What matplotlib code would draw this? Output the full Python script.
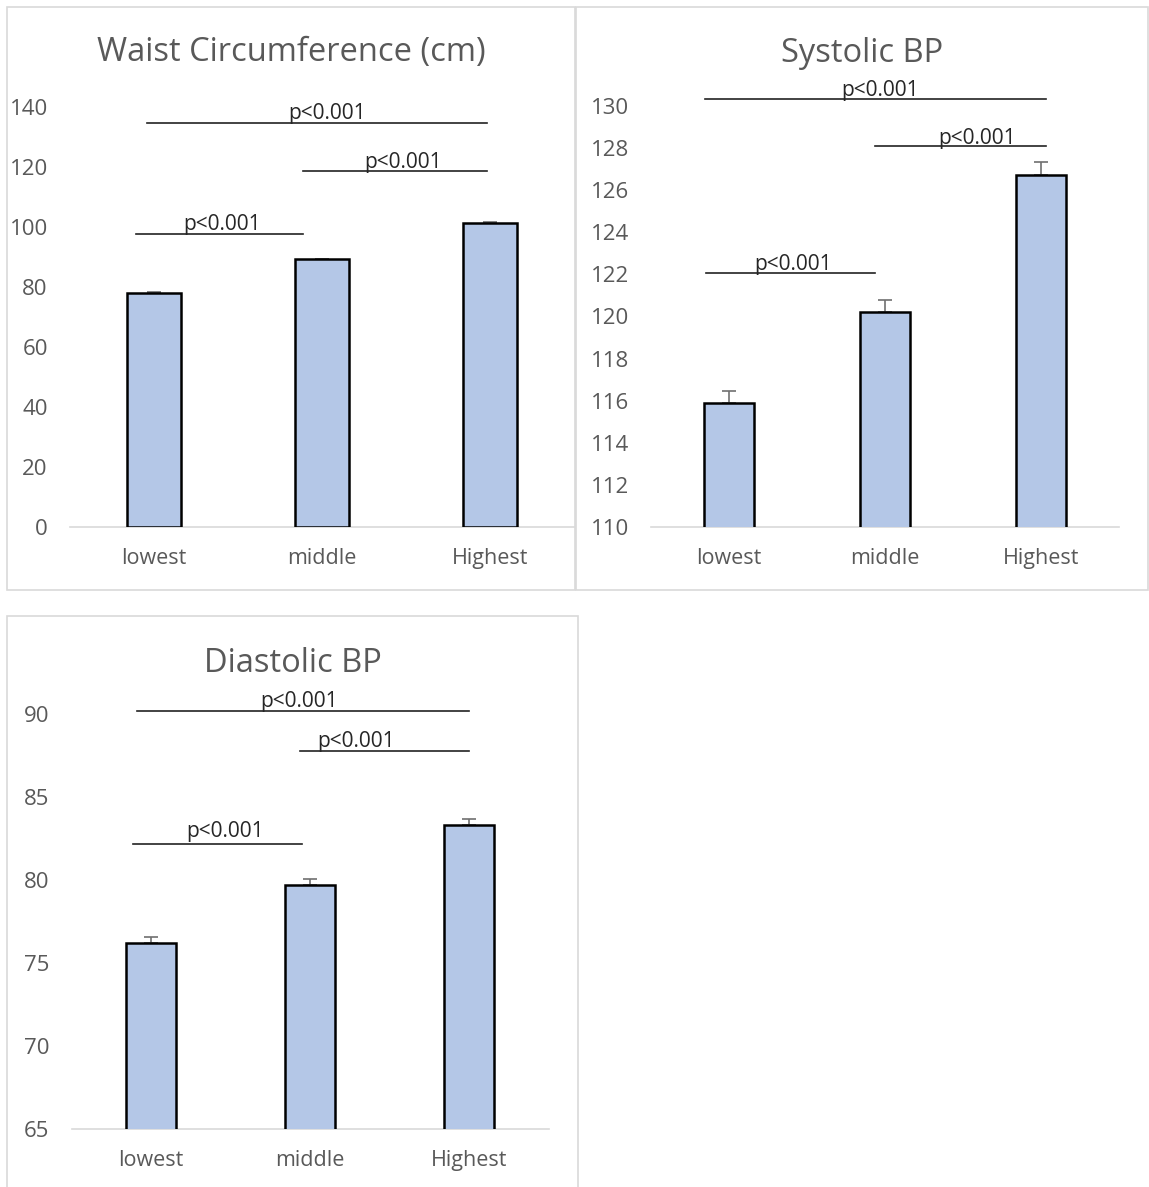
import numpy as np
import matplotlib.pyplot as plt
from matplotlib.patches import Rectangle

plt.rcParams['font.family'] = ['Open Sans', 'DejaVu Sans']

categories = ['lowest', 'middle', 'Highest']

waist_mean = [78.0, 89.2, 101.4]
waist_err = [0.3, 0.3, 0.35]
waist_ticks = [0, 20, 40, 60, 80, 100, 120, 140]

sbp_mean = [115.9, 120.2, 126.7]
sbp_err = [0.55, 0.6, 0.65]
sbp_ticks = [110, 112, 114, 116, 118, 120, 122, 124, 126, 128, 130]

dbp_mean = [76.2, 79.7, 83.3]
dbp_err = [0.35, 0.35, 0.4]
dbp_ticks = [65, 70, 75, 80, 85, 90]

# significance bars: (x start, x end, y, label x, text lift px)
waist_sig = [(-0.04, 1.98, 134.7, 1.03, 4), (0.887, 1.98, 118.7, 1.48, 3),
             (-0.107, 0.887, 97.7, 0.405, 4)]
sbp_sig = [(-0.154, 2.03, 130.33, 0.97, 3), (0.936, 2.03, 128.1, 1.59, 2),
           (-0.147, 0.936, 122.05, 0.41, 3)]
dbp_sig = [(-0.088, 2.0, 90.18, 0.93, 4), (0.937, 2.0, 87.77, 1.29, 4),
           (-0.113, 0.95, 82.17, 0.465, 7)]

W, H = 1149, 1187
fig = plt.figure(figsize=(W / 100, H / 100), dpi=100)

grey = '#595959'
bar_col = '#b4c7e7'


def px_axes(x0, x1, ytop, ybot):
    return fig.add_axes([x0 / W, 1 - ybot / H, (x1 - x0) / W, (ybot - ytop) / H])


def panel_box(x0, x1, y0, y1):
    fig.patches.append(Rectangle((x0 / W, 1 - y1 / H), (x1 - x0) / W, (y1 - y0) / H,
                                 transform=fig.transFigure, fill=False,
                                 edgecolor='#d9d9d9', lw=1.2))


def draw(ax, means, errs, ticks, sig, title, title_xy):
    x = np.arange(len(categories))
    ax.bar(x, means, width=0.32, color=bar_col, edgecolor='black', linewidth=1.8, zorder=3)
    ax.errorbar(x, means, yerr=[np.zeros(len(errs)), errs], fmt='none',
                ecolor='#6f6f6f', elinewidth=1.2, capsize=5, capthick=1.2, zorder=2)
    ax.set_xlim(-0.5, len(categories) - 0.5)
    ax.set_ylim(ticks[0], ticks[-1])
    ax.set_yticks(ticks)
    ax.set_xticks(x)
    ax.set_xticklabels(categories)
    for s in ['top', 'right', 'left']:
        ax.spines[s].set_visible(False)
    ax.spines['bottom'].set_color('#d9d9d9')
    ax.spines['bottom'].set_linewidth(1.2)
    ax.spines['bottom'].set_zorder(1)
    ax.tick_params(axis='y', length=0, pad=16, labelsize=16, labelcolor=grey)
    ax.tick_params(axis='x', length=0, pad=15, labelsize=15.5, labelcolor=grey)
    for x0, x1, y, tx, lift in sig:
        ax.plot([x0, x1], [y, y], color='#222222', lw=1.2, clip_on=False, zorder=4)
        ax.annotate('p<0.001', xy=(tx, y), xytext=(0, lift), textcoords='offset pixels',
                    ha='center', va='baseline', fontsize=15, color='#262626',
                    annotation_clip=False, zorder=5)
    fig.text(title_xy[0] / W, 1 - title_xy[1] / H, title, ha='center', va='center',
             fontsize=23.5, color=grey)


panel_box(7, 575, 7, 590)
panel_box(576, 1148, 7, 590)
panel_box(7, 578, 616, 1195)

ax1 = px_axes(70, 574, 107, 527)
draw(ax1, waist_mean, waist_err, waist_ticks, waist_sig, 'Waist Circumference (cm)', (291, 53))

ax2 = px_axes(651, 1119, 106, 527)
draw(ax2, sbp_mean, sbp_err, sbp_ticks, sbp_sig, 'Systolic BP', (862, 54))

ax3 = px_axes(71.5, 548.5, 714, 1129)
draw(ax3, dbp_mean, dbp_err, dbp_ticks, dbp_sig, 'Diastolic BP', (293, 663))

fig.savefig('out.png', dpi=100)
